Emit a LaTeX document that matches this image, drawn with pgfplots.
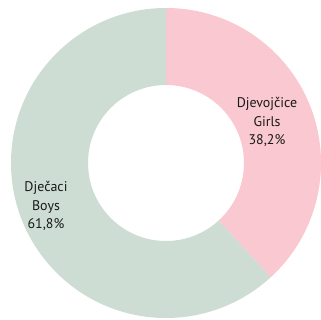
\documentclass[border=0pt]{standalone}
\usepackage{pgfplots}
\usepackage{pgfplotstable}
\pgfplotsset{compat=1.18}
\usepackage{fontspec}
\setmainfont{PT Sans}
\definecolor{pinkc}{RGB}{249,200,208}
\definecolor{greenc}{RGB}{205,221,211}
\pgfplotstableread{
label value
Girls 38.2
Boys 61.8
}\piedata
\pgfplotstablegetelem{0}{value}\of\piedata \let\girls\pgfplotsretval
\begin{document}
\begin{tikzpicture}
\begin{axis}[x=1bp,y=1bp,xmin=0,xmax=321,ymin=0,ymax=320,hide axis,clip=false]
\pgfmathsetmacro\a{90-3.6*\girls}
\pgfmathsetmacro\b{360+\a}
\path[draw=none] (axis cs:0,0) rectangle (axis cs:321,320);
\fill[pinkc] (axis cs:166,157) ++(90:155bp) arc[start angle=90,end angle=\a,radius=155bp] -- ++(\a:-77bp) arc[start angle=\a,end angle=90,radius=78bp] -- cycle;
\fill[greenc] (axis cs:166,157) ++(90:155bp) arc[start angle=90,end angle=\b,radius=155bp] -- ++(\b:-77bp) arc[start angle=\b,end angle=90,radius=78bp] -- cycle;
\node[align=center,font=\fontsize{14}{18.5}\selectfont,text=black!90] at (axis cs:267,198) {Djevojčice\\Girls\\38,2\%};
\node[align=center,font=\fontsize{14}{18.5}\selectfont,text=black!90] at (axis cs:46,114) {Dječaci\\Boys\\61,8\%};
\end{axis}
\end{tikzpicture}
\end{document}
